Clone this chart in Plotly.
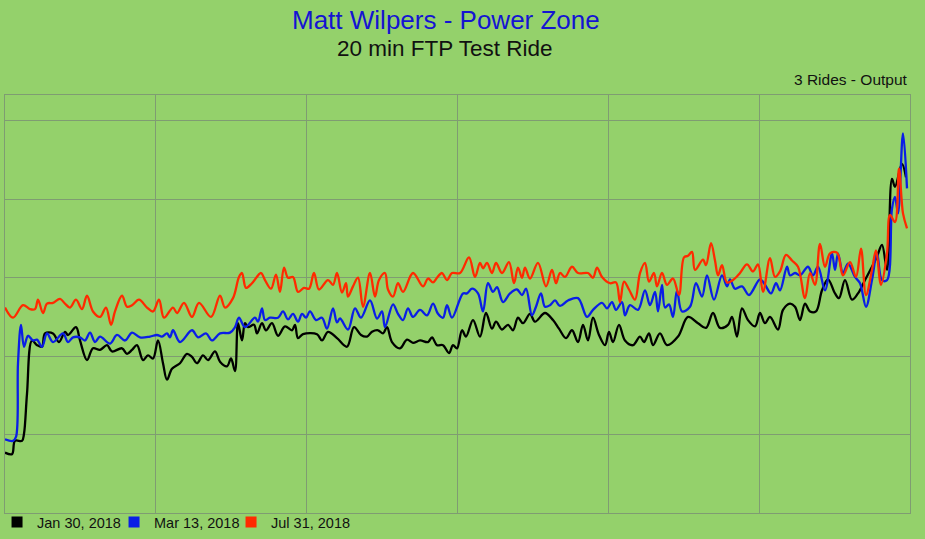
import plotly.graph_objects as go

# ride output, seconds into the ride vs watts
jan_t = [0, 14, 20, 34, 38, 44, 54, 64, 74, 80, 96, 108, 120, 126, 142, 150, 164, 176, 190, 204,
         214, 234, 244, 254, 264, 276, 286, 296, 306, 316, 324, 334, 350, 364, 374, 384, 396, 406, 420, 430,
         444, 452, 460, 466, 474, 480, 486, 498, 504, 514, 522, 534, 546, 560, 574, 580, 586, 596, 624, 634,
         646, 664, 684, 698, 712, 724, 734, 746, 756, 764, 774, 790, 804, 816, 830, 846, 854, 864, 876, 888,
         896, 904, 914, 922, 936, 950, 962, 974, 982, 994, 1006, 1016, 1026, 1036, 1050, 1060, 1080, 1096, 1108, 1122,
         1134, 1146, 1156, 1166, 1176, 1188, 1200, 1208, 1216, 1228, 1240, 1256, 1270, 1278, 1288, 1296, 1310, 1324, 1346, 1366,
         1386, 1402, 1416, 1430, 1446, 1454, 1464, 1474, 1486, 1500, 1510, 1520, 1530, 1546, 1556, 1570, 1580, 1590, 1600, 1610,
         1622, 1634, 1646, 1660, 1668, 1680, 1694, 1706, 1720, 1734, 1744, 1754, 1764, 1774, 1780, 1794, 1802]
jan_w = [77, 75, 92, 92, 101, 152, 220, 214, 212, 229, 229, 218, 231, 227, 237, 220, 195, 210, 208, 214,
         206, 210, 203, 208, 214, 195, 201, 197, 220, 191, 170, 184, 191, 203, 199, 191, 201, 195, 206, 193,
         187, 197, 181, 242, 220, 242, 237, 240, 229, 242, 233, 242, 226, 238, 233, 240, 223, 228, 228, 220,
         231, 223, 212, 237, 227, 225, 231, 233, 229, 237, 218, 210, 221, 217, 220, 218, 224, 214, 214, 204,
         214, 210, 233, 225, 246, 225, 255, 235, 244, 234, 240, 233, 249, 242, 254, 244, 255, 246, 235, 223,
         233, 218, 240, 220, 249, 227, 214, 231, 218, 240, 220, 214, 225, 218, 229, 214, 229, 214, 225, 250,
         242, 236, 255, 236, 240, 250, 225, 261, 246, 238, 255, 242, 250, 234, 259, 267, 263, 246, 267, 257,
         257, 284, 298, 280, 274, 297, 272, 280, 297, 314, 327, 342, 310, 426, 416, 445, 428]

mar_t = [0, 16, 22, 26, 32, 38, 46, 56, 64, 74, 84, 96, 116, 126, 136, 150, 160, 170, 180, 190,
         210, 224, 240, 254, 270, 290, 304, 314, 324, 330, 336, 350, 374, 386, 402, 414, 430, 450, 460, 468,
         480, 500, 506, 514, 520, 530, 546, 556, 566, 576, 586, 594, 602, 610, 622, 634, 644, 656, 664, 670,
         686, 700, 712, 730, 744, 754, 760, 776, 786, 796, 806, 816, 830, 844, 856, 866, 876, 884, 894, 916,
         924, 934, 946, 956, 966, 976, 984, 996, 1010, 1024, 1034, 1042, 1054, 1062, 1072, 1080, 1090, 1100, 1110, 1126,
         1146, 1164, 1176, 1194, 1204, 1214, 1222, 1234, 1240, 1250, 1266, 1280, 1290, 1300, 1306, 1314, 1320, 1328, 1336, 1344,
         1354, 1370, 1382, 1394, 1404, 1418, 1434, 1444, 1450, 1460, 1474, 1488, 1510, 1520, 1532, 1542, 1550, 1564, 1570, 1580,
         1590, 1606, 1616, 1626, 1640, 1654, 1660, 1666, 1676, 1686, 1700, 1710, 1722, 1734, 1744, 1754, 1764, 1774, 1780, 1786,
         1796, 1804]
mar_w = [94, 92, 97, 191, 240, 212, 226, 220, 221, 212, 229, 218, 229, 218, 224, 224, 220, 230, 218, 225,
         216, 227, 220, 230, 224, 225, 227, 225, 229, 224, 233, 218, 233, 224, 229, 220, 229, 230, 237, 249,
         237, 249, 244, 261, 246, 249, 249, 257, 247, 254, 244, 254, 249, 257, 246, 249, 235, 261, 243, 248,
         234, 261, 249, 271, 248, 257, 237, 266, 254, 246, 261, 250, 259, 252, 267, 254, 249, 265, 249, 280,
         280, 286, 280, 257, 293, 282, 288, 269, 280, 285, 278, 286, 252, 263, 280, 263, 265, 271, 264, 271,
         274, 250, 259, 268, 261, 269, 259, 269, 252, 265, 259, 284, 265, 282, 257, 291, 262, 266, 250, 284,
         257, 263, 293, 276, 303, 272, 303, 289, 298, 286, 289, 278, 298, 291, 280, 293, 284, 314, 303, 306,
         303, 314, 303, 314, 284, 331, 310, 331, 306, 318, 301, 293, 263, 297, 331, 297, 297, 388, 403, 382,
         484, 414]

jul_t = [0, 16, 36, 50, 60, 66, 76, 84, 96, 110, 120, 130, 142, 154, 164, 176, 190, 202, 212, 220,
         234, 244, 254, 268, 284, 296, 308, 318, 336, 344, 358, 374, 388, 412, 430, 440, 456, 468, 474, 482,
         494, 512, 520, 532, 542, 550, 558, 566, 576, 586, 598, 608, 618, 628, 646, 656, 664, 674, 682, 686,
         696, 706, 716, 730, 740, 748, 760, 766, 776, 786, 796, 816, 836, 846, 856, 864, 874, 884, 894, 910,
         928, 940, 950, 956, 964, 974, 982, 994, 1008, 1018, 1026, 1034, 1040, 1050, 1066, 1082, 1094, 1102, 1110, 1120,
         1134, 1146, 1166, 1176, 1184, 1194, 1210, 1222, 1230, 1238, 1248, 1260, 1270, 1280, 1288, 1298, 1304, 1314, 1324, 1336,
         1348, 1358, 1366, 1374, 1380, 1396, 1402, 1412, 1420, 1426, 1434, 1444, 1456, 1470, 1484, 1496, 1506, 1516, 1530, 1540,
         1550, 1562, 1574, 1586, 1600, 1610, 1620, 1630, 1640, 1650, 1664, 1676, 1690, 1702, 1712, 1722, 1734, 1742, 1752, 1764,
         1770, 1780, 1788, 1796, 1804]
jul_w = [262, 249, 265, 260, 260, 272, 255, 267, 268, 273, 267, 262, 272, 260, 277, 257, 250, 262, 240, 257,
         277, 263, 265, 272, 262, 257, 272, 249, 262, 255, 268, 250, 268, 250, 277, 262, 274, 301, 306, 287,
         293, 306, 297, 286, 304, 282, 313, 300, 301, 282, 287, 286, 306, 285, 297, 291, 306, 281, 293, 276,
         289, 300, 263, 306, 276, 297, 306, 285, 276, 293, 282, 306, 289, 299, 294, 300, 306, 297, 306, 306,
         326, 301, 319, 312, 319, 306, 319, 306, 320, 293, 313, 300, 313, 299, 319, 289, 310, 293, 306, 301,
         314, 306, 306, 300, 313, 301, 293, 294, 269, 295, 285, 272, 306, 319, 295, 306, 289, 306, 291, 299,
         278, 326, 328, 333, 310, 323, 316, 344, 322, 303, 316, 294, 297, 306, 317, 308, 317, 282, 325, 301,
         308, 329, 322, 314, 274, 306, 291, 343, 314, 331, 332, 303, 320, 301, 337, 278, 310, 335, 291, 331,
         380, 371, 439, 382, 363]

rides = [
    ("Jan 30, 2018", jan_t, jan_w, "#000000"),
    ("Mar 13, 2018", mar_t, mar_w, "#0a1ee6"),
    ("Jul 31, 2018", jul_t, jul_w, "#ff2a00"),
]

bg = "#94d16b"
grid = "#7f9c72"

fig = go.Figure()
for name, t, w, col in rides:
    fig.add_trace(go.Scatter(x=t, y=w, mode="lines", name=name, showlegend=False,
                             line=dict(color=col, width=2.3, shape="spline", smoothing=1.0),
                             hoverinfo="x+y"))
# square swatches for the legend
for name, t, w, col in rides:
    fig.add_trace(go.Scatter(x=[None], y=[None], mode="markers", name=name,
                             marker=dict(symbol="square", size=11, color=col)))
# blank entry so the fixed-width legend doesn't clip the last label
fig.add_trace(go.Scatter(x=[None], y=[None], mode="markers", name=" ",
                         marker=dict(size=1, color="rgba(0,0,0,0)")))

plot_h = 539 - 95 - 26  # plot area height in px, used to place header texts

fig.update_layout(
    width=925, height=539,
    paper_bgcolor=bg, plot_bgcolor=bg,
    margin=dict(l=5, r=15, t=95, b=26, autoexpand=False),
    font=dict(family="Liberation Sans, Arial, sans-serif", color="#111111"),
    showlegend=True,
    legend=dict(orientation="h", x=-0.0088, xanchor="left", y=-0.022, yanchor="middle",
                font=dict(size=14.5, color="#111111"), bgcolor="rgba(0,0,0,0)",
                itemwidth=30, tracegroupgap=0, entrywidth=72, entrywidthmode="pixels"),
    annotations=[
        dict(text="Matt Wilpers - Power Zone", x=0.487, y=1 + (95 - 20) / plot_h,
             xref="paper", yref="paper", xanchor="center", yanchor="middle", showarrow=False,
             font=dict(size=26, color="#1414d2")),
        dict(text="20 min FTP Test Ride", x=0.486, y=1 + (95 - 49) / plot_h, showarrow=False,
             xref="paper", yref="paper", xanchor="center", yanchor="middle",
             font=dict(size=22.5, color="#111111")),
        dict(text="3 Rides - Output", x=1, y=1 + (95 - 79) / plot_h, showarrow=False,
             xref="paper", yref="paper", xanchor="right", yanchor="middle",
             font=dict(size=15.5, color="#111111")),
    ],
)

fig.update_xaxes(range=[0, 1810], tick0=0, dtick=1810 / 6, showticklabels=False,
                 showgrid=True, gridcolor=grid, gridwidth=1, zeroline=False,
                 showline=True, linecolor=grid, linewidth=1, mirror=True)
fig.update_yaxes(range=[0, 533], tick0=0, dtick=100, showticklabels=False,
                 showgrid=True, gridcolor=grid, gridwidth=1, zeroline=False,
                 showline=True, linecolor=grid, linewidth=1, mirror=True)

# page has a default body margin; drop it so the figure fills the window
fig.write_html("out.html", config={"displayModeBar": False},
               post_script="document.body.style.margin='0';")
